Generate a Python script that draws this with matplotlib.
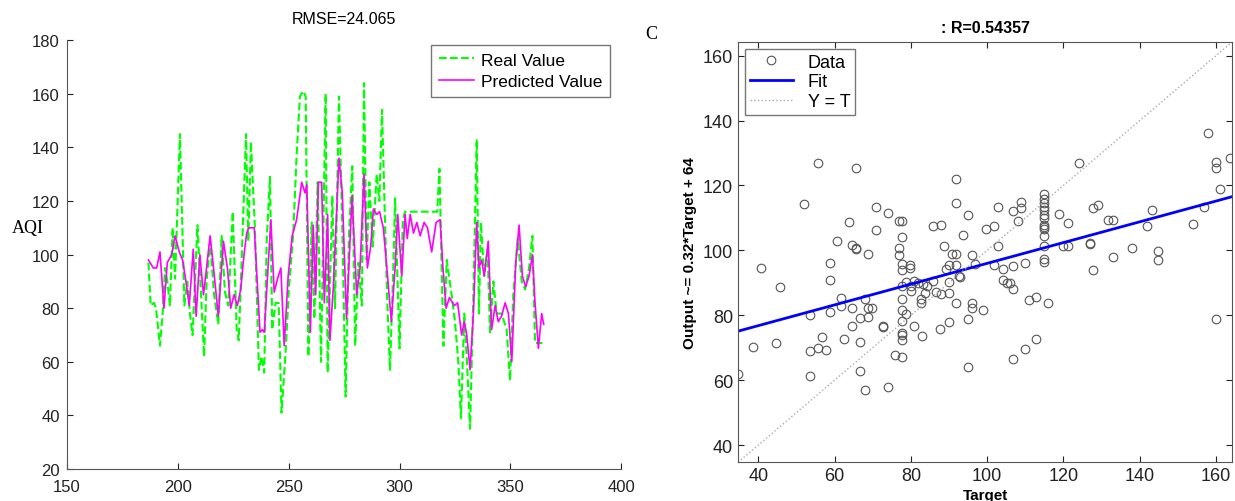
import matplotlib
matplotlib.use('Agg')
import matplotlib.pyplot as plt
import numpy as np

plt.rcParams['font.family'] = ['Liberation Sans', 'DejaVu Sans']

# left panel: real vs predicted AQI (day index, value)
real_x = [186.8, 187.8, 189.3, 190.2, 192.0, 193.2, 194.3, 195.3, 196.5, 197.7, 198.8, 201.0,
          203.0, 204.3, 205.5, 206.7, 208.9, 210.4, 211.9, 213.0, 214.6, 216.4, 218.3, 219.8,
          221.3, 222.8, 224.8, 226.6, 227.5, 228.5, 230.8, 231.8, 233.0, 234.8, 236.6, 237.8,
          239.0, 240.1, 241.6, 242.6, 244.1, 245.5, 246.8, 248.6, 250.1, 252.1, 253.6, 255.1,
          256.6, 257.7, 258.9, 260.4, 261.6, 263.1, 264.6, 266.7, 267.6, 269.7, 270.9, 272.7,
          274.2, 275.7, 277.2, 278.7, 280.0, 281.5, 283.0, 284.0, 285.2, 286.4, 287.9, 289.7,
          290.9, 292.1, 293.5, 294.5, 295.7, 297.2, 298.0, 300.0, 301.5, 302.5, 317.0, 318.0,
          319.8, 321.3, 323.5, 325.0, 326.5, 327.7, 329.2, 330.4, 331.8, 333.3, 334.8, 335.8,
          336.7, 338.2, 339.7, 340.8, 342.3, 343.8, 346.0, 348.3, 349.8, 351.3, 353.3, 355.1,
          356.6, 358.4, 359.9, 361.1, 364.4]
real_y = [97, 81, 82, 80, 66, 78, 95, 90, 81, 110, 91, 145,
          81, 90, 78, 70, 111, 87, 62, 90, 105, 85, 74, 107,
          86, 81, 116, 72, 68, 90, 145, 105, 142, 110, 57, 62,
          56, 105, 129, 72, 82, 82, 41, 63, 87, 108, 137, 159,
          161, 159, 62, 112, 76, 127, 60, 160, 56, 122, 80, 159,
          110, 47, 107, 133, 66, 97, 81, 164, 98, 127, 103, 130,
          120, 154, 111, 82, 57, 95, 121, 65, 113, 116, 116, 132,
          66, 98, 85, 75, 60, 39, 78, 60, 35, 85, 143, 78,
          112, 92, 102, 71, 90, 78, 78, 72, 53, 85, 106, 90,
          87, 95, 107, 67, 67]

pred_x = [186.8, 189.0, 190.5, 192.0, 193.8, 195.3, 197.3, 198.8, 200.7, 202.2, 203.7, 205.2,
          207.0, 208.3, 210.0, 211.6, 213.0, 214.6, 216.4, 218.3, 220.6, 222.4, 223.9, 225.4,
          226.9, 228.4, 229.9, 231.1, 232.0, 234.5, 237.1, 238.1, 239.0, 242.0, 243.5, 245.0,
          246.5, 248.0, 249.8, 251.6, 253.6, 255.9, 257.4, 258.2, 259.8, 261.1, 262.2, 263.4,
          264.9, 266.1, 267.6, 268.6, 270.1, 272.7, 274.2, 276.1, 278.6, 280.7, 282.2, 284.0,
          285.5, 287.0, 288.2, 289.7, 291.0, 292.7, 294.5, 296.3, 298.0, 299.2, 301.0, 302.5,
          303.5, 304.8, 306.3, 307.8, 309.3, 311.1, 312.6, 314.5, 316.5, 318.3, 319.5, 321.0,
          322.5, 324.7, 326.2, 328.0, 329.2, 330.3, 331.8, 333.3, 334.8, 335.8, 337.0, 338.2,
          340.0, 341.5, 343.1, 344.5, 346.0, 347.6, 349.1, 350.6, 352.4, 353.9, 355.4, 356.9,
          358.4, 359.9, 361.1, 362.6, 364.1, 365.0]
pred_y = [98, 95, 95, 101, 80, 97, 100, 107, 101, 98, 90, 81,
          102, 77, 100, 85, 95, 107, 93, 77, 105, 95, 80, 85,
          81, 87, 100, 108, 110, 110, 71, 72, 71, 113, 86, 91,
          95, 66, 92, 107, 113, 127, 123, 126, 71, 111, 85, 127,
          127, 82, 115, 68, 87, 136, 123, 76, 122, 85, 95, 130,
          95, 103, 117, 115, 116, 110, 93, 75, 95, 115, 92, 115,
          106, 115, 108, 112, 107, 112, 110, 101, 112, 113, 96, 80,
          84, 81, 82, 70, 75, 70, 57, 78, 112, 95, 98, 92,
          105, 72, 81, 75, 77, 82, 78, 60, 97, 111, 92, 88,
          92, 100, 82, 65, 78, 74]

# right panel: regression scatter (target, output)
target = [55.6, 65.7, 51.9, 70.9, 74.0, 63.7, 70.9, 77.0, 60.7, 64.6, 65.7, 65.5, 68.7, 58.7,
          40.6, 58.7, 45.8, 61.7, 67.9, 61.7, 64.6, 68.7, 69.9, 58.7, 53.6, 66.8, 68.7, 64.6,
          72.7, 72.8, 56.8, 62.6, 66.8, 38.6, 44.7, 53.6, 55.6, 57.8, 75.9, 34.7, 53.6, 66.8,
          67.9, 74.0,
          91.9, 91.9, 77.7, 94.9, 85.8, 87.9, 102.8, 106.7, 108.9, 108.9, 108.0, 99.7, 101.9,
          93.8, 77.7, 88.8, 102.8, 76.8, 76.8, 77.7, 77.7, 79.8, 79.8, 90.8, 91.9, 96.0, 91.9,
          89.1, 90.1, 92.7, 92.9, 96.7, 101.9, 104.1, 106.9, 109.8, 104.1, 105.1, 106.0, 106.9,
          89.9, 78.8, 80.9, 81.8, 77.7, 80.1, 83.1, 84.2, 85.8, 80.1, 83.6, 86.6, 87.9, 89.9,
          77.7, 82.7, 82.7, 91.9, 96.0, 96.0, 98.9, 77.7, 78.6, 77.7, 80.7, 77.7, 77.7, 77.7,
          82.9, 87.7, 89.9, 94.9, 77.7, 94.9, 106.7, 109.8, 112.8, 110.9, 112.8, 115.9,
          114.8, 114.8, 114.8, 114.8, 114.8, 114.8, 114.8, 114.8, 114.8, 114.8, 114.8, 114.8,
          114.8, 114.8,
          124.0, 158.0, 160.0, 160.0, 163.7, 161.0, 156.9, 154.0, 143.1, 141.9, 118.9, 121.1,
          127.8, 129.0, 131.8, 132.9, 119.8, 121.1, 126.9, 126.9, 138.0, 132.9, 144.9, 144.9,
          127.8, 160.0]
output = [126.8, 125.3, 114.2, 113.4, 111.5, 108.8, 106.3, 108.9, 103.0, 101.7, 100.4, 100.7,
          99.0, 96.1, 94.7, 91.0, 88.6, 85.2, 84.9, 82.8, 82.1, 82.1, 82.1, 81.0, 80.0, 79.3,
          79.6, 76.7, 76.7, 76.4, 73.3, 72.6, 71.9, 70.1, 71.5, 69.0, 69.9, 69.4, 67.8, 61.8,
          61.4, 62.7, 57.1, 57.8,
          122.0, 114.7, 109.1, 111.0, 107.4, 107.7, 113.5, 112.2, 114.8, 113.0, 108.9, 106.5,
          107.6, 104.7, 104.1, 101.5, 101.5, 100.7, 98.7, 95.8, 93.8, 95.6, 94.6, 99.0, 99.0,
          98.5, 95.4, 94.4, 95.4, 92.0, 91.8, 95.8, 95.6, 94.4, 95.3, 96.1, 91.0, 89.8, 90.0,
          88.2, 90.3, 90.3, 90.5, 90.0, 89.0, 89.0, 89.5, 89.0, 90.5, 87.4, 86.9, 87.1, 86.6,
          86.9, 84.9, 84.9, 83.8, 83.8, 83.8, 82.3, 81.5, 81.5, 80.3, 78.2, 76.7, 74.6, 73.9,
          72.4, 73.5, 75.7, 78.0, 78.8, 67.0, 64.0, 66.5, 69.5, 72.6, 84.7, 85.6, 83.8,
          117.3, 115.7, 114.7, 113.5, 112.3, 111.0, 109.9, 107.9, 107.2, 106.5, 104.5, 101.4,
          97.3, 96.5,
          127.0, 136.2, 127.3, 125.3, 128.6, 118.8, 113.5, 108.2, 112.3, 107.4, 111.1, 108.4,
          113.0, 114.0, 109.4, 109.4, 101.4, 101.4, 102.4, 101.9, 100.8, 97.9, 99.7, 97.1,
          93.8, 78.7]

fit_slope = 0.32
fit_icpt = 64
lims = [34.7, 164.2]

fig = plt.figure(figsize=(12.35, 5.02), dpi=100)

# ---- left panel
ax1 = fig.add_axes([0.0541, 0.0637, 0.4490, 0.8543])
ax1.plot(real_x, real_y, '--', color='#00ff00', lw=1.5, label='Real Value')
ax1.plot(pred_x, pred_y, '-', color='#ff00ff', lw=1.2, label='Predicted Value')
ax1.set_xlim(150, 400)
ax1.set_ylim(20, 180)
ax1.set_xticks(np.arange(150, 401, 50))
ax1.set_yticks(np.arange(20, 181, 20))
ax1.spines['top'].set_visible(False)
ax1.spines['right'].set_visible(False)
for s in ['left', 'bottom']:
    ax1.spines[s].set_color('#555555')
ax1.tick_params(direction='in', length=4, labelsize=12, colors='#222222')
ax1.tick_params(axis='x', pad=7)
ax1.tick_params(axis='y', pad=5)
ax1.set_title('RMSE=24.065', fontsize=11.5, pad=12)
leg1 = ax1.legend(loc='upper right', bbox_to_anchor=(0.995, 1.01), fontsize=12.5,
                  fancybox=False, edgecolor='#777777', framealpha=1,
                  handlelength=2.0, handletextpad=0.4, borderpad=0.45, labelspacing=0.35)
leg1.get_frame().set_linewidth(1.0)
fig.text(12 / 1235, 1 - 228 / 502, 'AQI', family=['Liberation Serif'], fontsize=13,
         ha='left', va='center')

# ---- right panel
ax2 = fig.add_axes([0.5976, 0.0771, 0.4, 0.8372])
ax2.plot(target, output, 'o', mfc='none', mec='#555555', ms=6.2, mew=0.8, label='Data')
ax2.plot(lims, [fit_slope * v + fit_icpt for v in lims], '-', color='#0000ff', lw=2, label='Fit')
ax2.plot(lims, lims, ':', color='#aaaaaa', lw=1, label='Y = T')
ax2.set_xlim(lims)
ax2.set_ylim(lims)
ax2.set_xticks(np.arange(40, 161, 20))
ax2.set_yticks(np.arange(40, 161, 20))
for s in ax2.spines.values():
    s.set_color('#555555')
ax2.tick_params(direction='in', length=4, labelsize=13, top=True, right=True, colors='#222222')
ax2.set_title(': R=0.54357', fontsize=11.5, fontweight='bold', pad=7)
ax2.set_ylabel('Output ~= 0.32*Target + 64', fontsize=11, fontweight='bold', labelpad=4)
ax2.set_xlabel('Target', fontsize=11, fontweight='bold', labelpad=3)
leg2 = ax2.legend(loc='upper left', fontsize=13, fancybox=False, edgecolor='#777777',
                  framealpha=1, handlelength=2.4, borderpad=0.25, labelspacing=0.15,
                  borderaxespad=0.4)
leg2.get_frame().set_linewidth(1.0)
fig.text(645 / 1235, 1 - 35 / 502, 'C', family=['Liberation Serif'], fontsize=13,
         ha='left', va='center')

fig.savefig('out.png', dpi=100)
